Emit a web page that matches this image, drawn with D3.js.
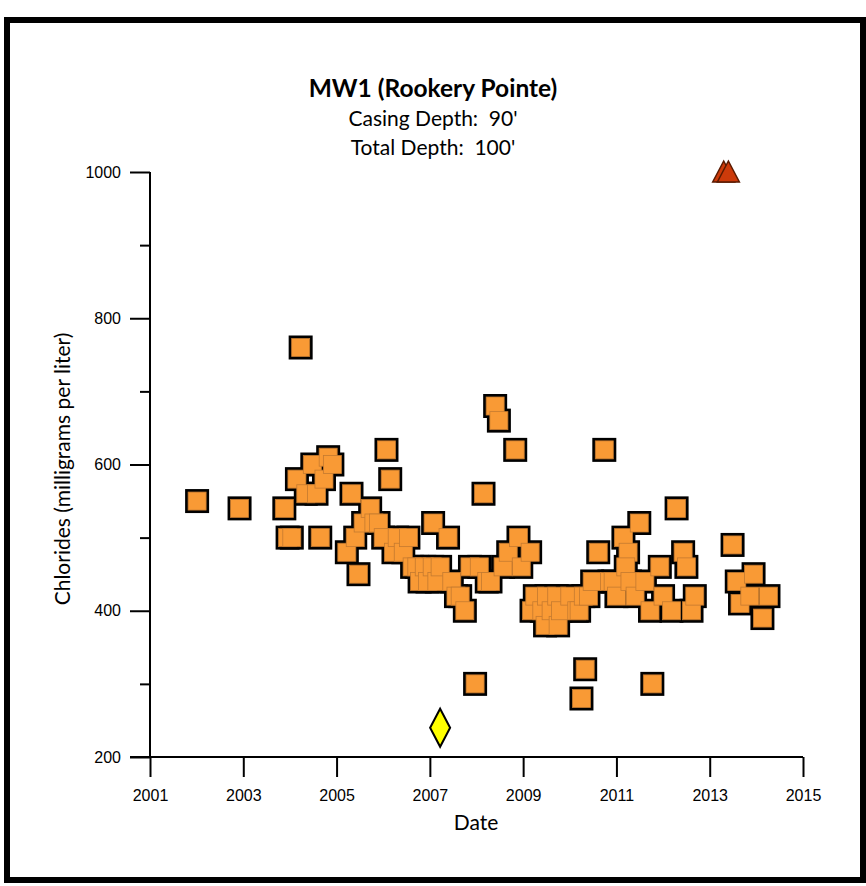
<!DOCTYPE html>
<html>
<head>
<meta charset="utf-8">
<script src="https://cdn.jsdelivr.net/npm/d3@7"></script>
<style>
  html, body { margin: 0; padding: 0; background: #fff; }
  svg { display: block; }
  text { white-space: pre; }
</style>
</head>
<body>
<svg id="chart" width="866" height="886"></svg>
<script>
// ---- Data (decimal year, chlorides mg/L) ----
const squareDates = [
  2002.01, 2002.92, 2003.88, 2003.95, 2004.04, 2004.15, 2004.23, 2004.34, 2004.48, 2004.57,
  2004.65, 2004.73, 2004.82, 2004.91, 2005.22, 2005.32, 2005.40, 2005.47, 2005.57, 2005.72,
  2005.80, 2005.90, 2006.00, 2006.07, 2006.15, 2006.22, 2006.30, 2006.43, 2006.54, 2006.62,
  2006.72, 2006.78, 2006.88, 2006.95, 2007.07, 2007.05, 2007.15, 2007.22, 2007.39, 2007.47,
  2007.56, 2007.65, 2007.75, 2007.86, 2007.97, 2008.06, 2008.15, 2008.22, 2008.30, 2008.40,
  2008.48, 2008.57, 2008.68, 2008.83, 2008.90, 2008.96, 2009.15, 2009.18, 2009.25, 2009.40,
  2009.47, 2009.50, 2009.60, 2009.72, 2009.75, 2009.80, 2010.00, 2010.15, 2010.20, 2010.25,
  2010.29, 2010.33, 2010.40, 2010.48, 2010.61, 2010.74, 2010.85, 2010.93, 2011.00, 2011.15,
  2011.25, 2011.20, 2011.29, 2011.40, 2011.49, 2011.61, 2011.72, 2011.77, 2011.93, 2012.00,
  2012.18, 2012.29, 2012.43, 2012.50, 2012.61, 2012.68, 2013.49, 2013.58, 2013.65, 2013.86,
  2013.94, 2014.13, 2014.26
];
const squareValues = [
  550, 540, 540, 500, 500, 580, 760, 560, 600, 560,
  500, 580, 610, 600, 480, 560, 500, 450, 520, 540,
  520, 520, 500, 620, 580, 480, 500, 480, 500, 460,
  460, 440, 460, 440, 520, 460, 440, 460, 500, 440,
  420, 420, 400, 460, 300, 460, 560, 440, 440, 680,
  660, 460, 480, 620, 500, 460, 480, 400, 420, 400,
  380, 420, 400, 420, 380, 400, 420, 400, 400, 280,
  420, 320, 420, 440, 480, 620, 440, 440, 420, 500,
  480, 460, 440, 420, 520, 440, 400, 300, 460, 420,
  400, 540, 480, 460, 400, 420, 490, 440, 410, 420,
  450, 390, 420
];
const triangleDates = [2013.30, 2013.40];
const triangleValues = [1000, 1000];
const diamondDates = [2007.22];
const diamondValues = [240];

const xTickValues = [2001, 2003, 2005, 2007, 2009, 2011, 2013, 2015];
const yMajorTicks = [200, 400, 600, 800, 1000];
const yMinorTicks = [300, 500, 700, 900];

const titleText = "MW1 (Rookery Pointe)";
const subtitle1 = "Casing Depth:  90'";
const subtitle2 = "Total Depth:  100'";
const xLabel = "Date";
const yLabel = "Chlorides (milligrams per liter)";

// ---- Layout ----
const svg = d3.select("#chart");
const x = d3.scaleLinear().domain([2001, 2015]).range([150, 803]);
const y = d3.scaleLinear().domain([200, 1000]).range([757, 172]);

// frame
svg.append("rect").attr("x", 7).attr("y", 20).attr("width", 856).attr("height", 860)
  .attr("fill", "#fff").attr("stroke", "#000").attr("stroke-width", 6);

// titles
const titleFont = "Lato, 'Open Sans', sans-serif";
svg.append("text").attr("x", 433).attr("y", 97).attr("text-anchor", "middle")
  .attr("font-family", titleFont).attr("font-weight", "bold").attr("font-size", 24.5)
  .attr("fill", "#000").text(titleText);
svg.append("text").attr("x", 433).attr("y", 126).attr("text-anchor", "middle")
  .attr("font-family", titleFont).attr("font-size", 21).attr("fill", "#000").text(subtitle1);
svg.append("text").attr("x", 433).attr("y", 155).attr("text-anchor", "middle")
  .attr("font-family", titleFont).attr("font-size", 21).attr("fill", "#000").text(subtitle2);

// axes
const axisFont = "'Liberation Sans', Arial, sans-serif";
const gx = svg.append("g").attr("transform", `translate(0,${y(200)})`)
  .call(d3.axisBottom(x).tickValues(xTickValues).tickFormat(d3.format("d"))
    .tickSize(20).tickPadding(13).tickSizeOuter(0));
gx.select(".domain").attr("stroke", "#000").attr("stroke-width", 2)
  .attr("d", `M${x(2001) - 20},0H${x(2015)}`);
gx.selectAll(".tick line").attr("stroke", "#000").attr("stroke-width", 2);
gx.selectAll(".tick text").attr("font-family", axisFont).attr("font-size", 16)
  .attr("fill", "#000");

const gy = svg.append("g").attr("transform", `translate(${x(2001)},0)`)
  .call(d3.axisLeft(y).tickValues(yMajorTicks).tickFormat(d3.format("d"))
    .tickSize(20).tickPadding(9).tickSizeOuter(0));
gy.select(".domain").attr("stroke", "#000").attr("stroke-width", 2)
  .attr("d", `M0,${y(1000)}V${y(200)}`);
gy.selectAll(".tick line").attr("stroke", "#000").attr("stroke-width", 2);
gy.selectAll(".tick text").attr("font-family", axisFont).attr("font-size", 16)
  .attr("fill", "#000");
const gyMinor = svg.append("g").attr("transform", `translate(${x(2001)},0)`)
  .call(d3.axisLeft(y).tickValues(yMinorTicks).tickFormat("").tickSize(10).tickSizeOuter(0));
gyMinor.select(".domain").remove();
gyMinor.selectAll(".tick line").attr("stroke", "#000").attr("stroke-width", 2);

// axis labels
svg.append("text").attr("x", 476).attr("y", 830).attr("text-anchor", "middle")
  .attr("font-family", titleFont).attr("font-size", 21).attr("fill", "#000").text(xLabel);
svg.append("text").attr("transform", `translate(70,469) rotate(-90)`)
  .attr("text-anchor", "middle").attr("font-family", titleFont).attr("font-size", 21)
  .attr("fill", "#000").text(yLabel);

// ---- Marks ----
const squares = squareDates.map((d, i) => ({ d, v: squareValues[i] }));
const outer = 24, inner = 18;
svg.append("g").selectAll("rect").data(squares).join("rect")
  .attr("x", p => x(p.d) - outer / 2).attr("y", p => y(p.v) - outer / 2)
  .attr("width", outer).attr("height", outer).attr("fill", "#000");
svg.append("g").selectAll("rect").data(squares).join("rect")
  .attr("x", p => x(p.d) - inner / 2).attr("y", p => y(p.v) - inner / 2)
  .attr("width", inner).attr("height", inner).attr("fill", "#F99A35")
  .attr("stroke", "#C47A30").attr("stroke-width", 0.8);

const tris = triangleDates.map((d, i) => ({ d, v: triangleValues[i] }));
svg.append("g").selectAll("path").data(tris).join("path")
  .attr("d", p => {
    const cx = x(p.d), cy = y(p.v);
    return `M${cx},${cy - 11}L${cx + 11},${cy + 10}L${cx - 11},${cy + 10}Z`;
  })
  .attr("fill", "#CC3A0A").attr("stroke", "#5a1a00").attr("stroke-width", 1.5);

const dias = diamondDates.map((d, i) => ({ d, v: diamondValues[i] }));
svg.append("g").selectAll("path").data(dias).join("path")
  .attr("d", p => {
    const cx = x(p.d), cy = y(p.v);
    return `M${cx},${cy - 19}L${cx + 10},${cy}L${cx},${cy + 19}L${cx - 10},${cy}Z`;
  })
  .attr("fill", "#FFFF00").attr("stroke", "#000").attr("stroke-width", 2);
</script>
</body>
</html>
